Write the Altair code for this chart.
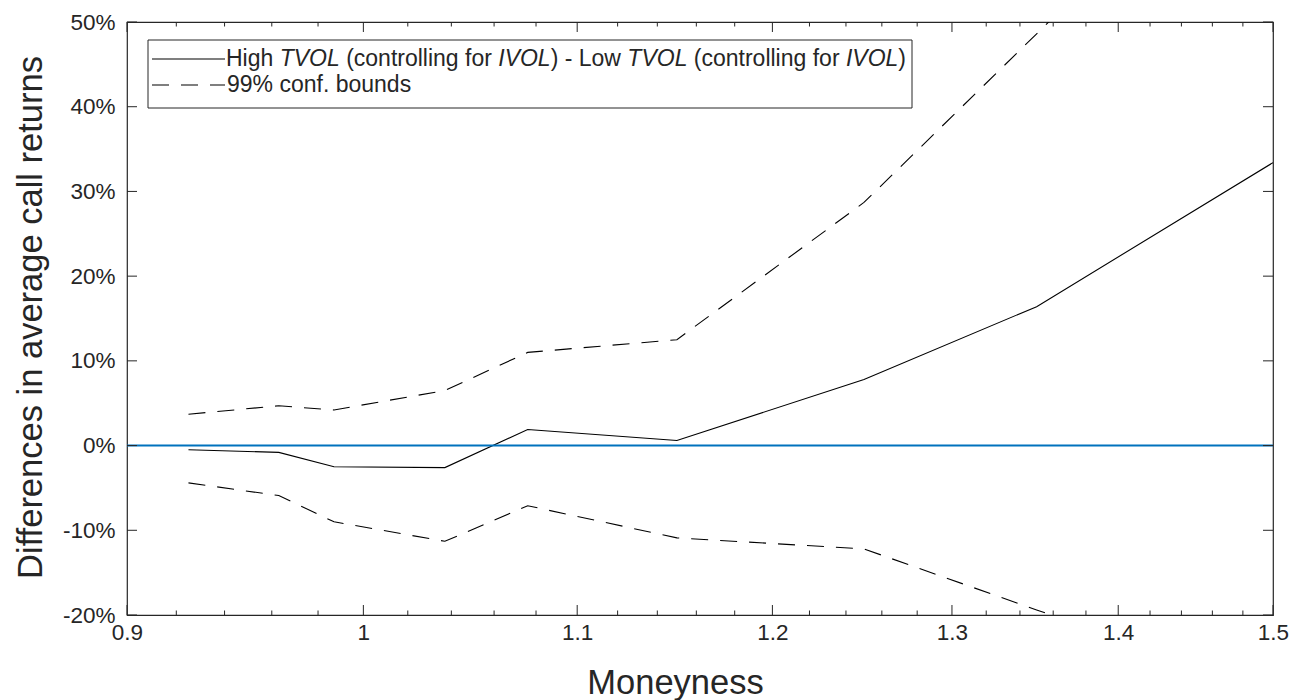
import altair as alt
import pandas as pd

# ---------------- data ----------------
moneyness = [0.925, 0.963, 0.987, 1.037, 1.076, 1.150, 1.250, 1.350, 1.500]
diff_ret  = [-0.005, -0.008, -0.025, -0.026, 0.019, 0.006, 0.078, 0.164, 0.334]
upper_ret = [0.037, 0.047, 0.042, 0.065, 0.110, 0.125, 0.287, 0.486, 0.76]
lower_ret = [-0.044, -0.059, -0.090, -0.113, -0.071, -0.109, -0.122, -0.194, -0.29]

x_major = [0.9, 1.0, 1.1, 1.2, 1.3, 1.4, 1.5]
x_minor = [round(0.9 + 0.02 * i, 2) for i in range(31)]
x_minor = [v for v in x_minor if all(abs(v - m) > 1e-9 for m in x_major)]
y_major = [-0.2, -0.1, 0.0, 0.1, 0.2, 0.3, 0.4, 0.5]

W, H = 1146, 593
FONT = "Liberation Sans"
INK = "#262626"
TICK_FS = 22.5
TITLE_FS = 34.5

rows = []
for name, vals in [("diff", diff_ret), ("upper", upper_ret), ("lower", lower_ret)]:
    for xv, yv in zip(moneyness, vals):
        rows.append({"x": xv, "y": yv, "s": name})
df = pd.DataFrame(rows)

xscale = alt.Scale(type="log", domain=[0.9, 1.5], nice=False, zero=False)
yscale = alt.Scale(domain=[-0.2, 0.5], nice=False, zero=False)

x_axis = alt.Axis(values=x_major, format="~g", ticks=False, domain=False, grid=False,
                  labelFont=FONT, labelFontSize=TICK_FS, labelColor=INK, labelPadding=6,
                  labelOverlap=False, labelFlush=False,
                  title="Moneyness", titleFont=FONT, titleFontSize=TITLE_FS, titleFontWeight="normal",
                  titleColor=INK, titleX=548, titleY=68, titleAlign="center", titleBaseline="middle")
y_axis = alt.Axis(values=y_major,
                  labelExpr="(datum.value < -0.0001 ? '-' : '') + format(abs(datum.value), '.0%')",
                  ticks=False, domain=False, grid=False,
                  labelFont=FONT, labelFontSize=TICK_FS, labelColor=INK, labelPadding=12,
                  labelOverlap=False, labelFlush=False,
                  title="Differences in average call returns", titleFont=FONT, titleFontSize=TITLE_FS,
                  titleFontWeight="normal", titleColor=INK, titleX=-96, titleY=295,
                  titleAngle=270, titleAlign="center", titleBaseline="middle")


def X(field="x"):
    return alt.X(f"{field}:Q", scale=xscale, axis=x_axis)


def Y(field="y"):
    return alt.Y(f"{field}:Q", scale=yscale, axis=y_axis)


solid = alt.Chart(df).transform_filter(alt.datum.s == "diff").mark_line(
    color="black", strokeWidth=1.1, clip=True).encode(x=X(), y=Y())

dashed = alt.Chart(df).transform_filter(alt.datum.s != "diff").mark_line(
    color="black", strokeWidth=1.1, strokeDash=[17, 12], clip=True).encode(
    x=X(), y=Y(), detail="s:N")

zero = alt.Chart(pd.DataFrame({"y": [0.0]})).mark_rule(color="#0072BD", strokeWidth=2).encode(
    y=Y())


# inward ticks (box style)
def xticks(vals, length):
    d = pd.DataFrame({"x": vals})
    b = alt.Chart(d).mark_rule(color=INK, strokeWidth=1).encode(
        x=X(), y=alt.value(H), y2=alt.value(H - length))
    t = alt.Chart(d).mark_rule(color=INK, strokeWidth=1).encode(
        x=X(), y=alt.value(0), y2=alt.value(length))
    return [b, t]


def yticks(vals, length):
    d = pd.DataFrame({"y": vals})
    l = alt.Chart(d).mark_rule(color=INK, strokeWidth=1).encode(
        y=Y(), x=alt.value(0), x2=alt.value(length))
    r = alt.Chart(d).mark_rule(color=INK, strokeWidth=1).encode(
        y=Y(), x=alt.value(W - length), x2=alt.value(W))
    return [l, r]


tick_layers = xticks(x_major, 10) + xticks(x_minor, 4.5) + yticks(y_major, 10)

# ---------------- legend ----------------
AW = {" ": 278, "(": 333, ")": 333, "-": 333, "%": 889, ".": 278, "9": 556,
      "H": 722, "i": 222, "g": 556, "h": 556, "T": 611, "V": 667, "O": 778, "L": 556,
      "I": 278, "c": 500, "o": 556, "n": 556, "t": 278, "r": 333, "l": 222, "f": 278,
      "w": 722, "b": 556, "u": 556, "d": 556, "s": 500, "a": 556, "e": 556}
LFS = 23.0


def tw(s):
    return sum(AW.get(c, 556) for c in s) / 1000.0 * LFS


pieces = [("High ", False), ("TVOL", True), (" (controlling for ", False), ("IVOL", True),
          (") - Low ", False), ("TVOL", True), (" (controlling for ", False), ("IVOL", True),
          (")", False)]

ROW1, ROW2 = 37, 63
one = alt.Data(values=[{}])
legend_layers = [
    alt.Chart(one).mark_rect(fill="white", stroke=INK, strokeWidth=1).encode(
        x=alt.value(21), x2=alt.value(785), y=alt.value(18), y2=alt.value(86)),
    alt.Chart(one).mark_rule(color="black", strokeWidth=1.1).encode(
        x=alt.value(25), x2=alt.value(98), y=alt.value(ROW1)),
    alt.Chart(one).mark_rule(color="black", strokeWidth=1.1, strokeDash=[17, 12]).encode(
        x=alt.value(25), x2=alt.value(98), y=alt.value(ROW2)),
]
cx = 99.0
for txt, it in pieces:
    lead = len(txt) - len(txt.lstrip(" "))
    core = txt.strip(" ")
    px = cx + tw(" " * lead)
    kw = dict(font=FONT, fontSize=LFS, color=INK, align="left", baseline="middle", text=core)
    if it:
        kw["fontStyle"] = "italic"
    legend_layers.append(alt.Chart(one).mark_text(**kw).encode(x=alt.value(px), y=alt.value(ROW1)))
    cx += tw(txt)
legend_layers.append(alt.Chart(one).mark_text(
    font=FONT, fontSize=LFS, color=INK, align="left", baseline="middle",
    text="99% conf. bounds").encode(x=alt.value(100), y=alt.value(ROW2)))

chart = alt.layer(
    solid, dashed, zero, *tick_layers, *legend_layers
).properties(
    width=W, height=H,
    autosize=alt.AutoSizeParams(type="none"),
    padding={"left": 127, "top": 22, "right": 21, "bottom": 85},
    background="white",
).configure_view(stroke=INK, strokeWidth=1.2)

chart.save("out.html", embed_options={"renderer": "svg", "actions": False})
